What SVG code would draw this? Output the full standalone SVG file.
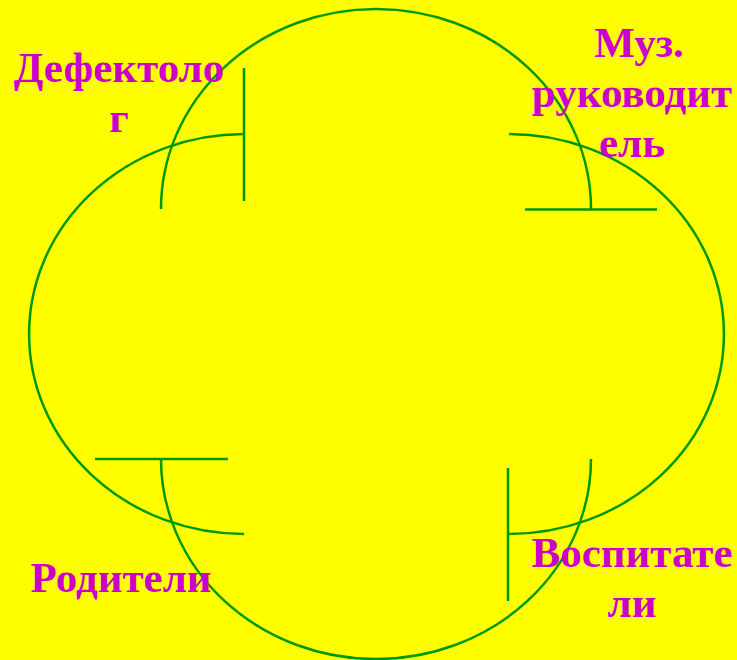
<svg xmlns="http://www.w3.org/2000/svg" width="737" height="660" viewBox="0 0 737 660">
<style>
.arc{fill:none;stroke:#009A00;stroke-width:2.5}
.lbl{font-family:"Liberation Serif","Times New Roman",serif;font-weight:bold;font-size:43px;fill:#CC00CC;text-anchor:middle}
</style>
<rect x="0" y="0" width="737" height="660" fill="#FFFF00"/>
<g id="connectors">
<path class="arc" d="M161,209 A215,200 0 0 1 591,209"/>
<path class="arc" d="M509,134 A215,200 0 0 1 509,534"/>
<path class="arc" d="M591,459 A215,200 0 0 1 161,459"/>
<path class="arc" d="M244,534 A215,200 0 0 1 244,134"/>
<line class="arc" x1="244" y1="68" x2="244" y2="201"/>
<line class="arc" x1="525" y1="209.5" x2="657" y2="209.5"/>
<line class="arc" x1="95" y1="459" x2="228" y2="459"/>
<line class="arc" x1="508" y1="468" x2="508" y2="601"/>
</g>
<g id="defektolog">
<text class="lbl" x="119" y="82">Дефектоло</text>
<text class="lbl" x="119" y="132">г</text>
</g>
<g id="muz">
<text class="lbl" x="639" y="57">Муз.</text>
<text class="lbl" x="632" y="107">руководит</text>
<text class="lbl" x="632" y="157">ель</text>
</g>
<g id="roditeli">
<text class="lbl" x="121" y="592">Родители</text>
</g>
<g id="vospitateli">
<text class="lbl" x="632" y="567">Воспитате</text>
<text class="lbl" x="632" y="617">ли</text>
</g>
</svg>
